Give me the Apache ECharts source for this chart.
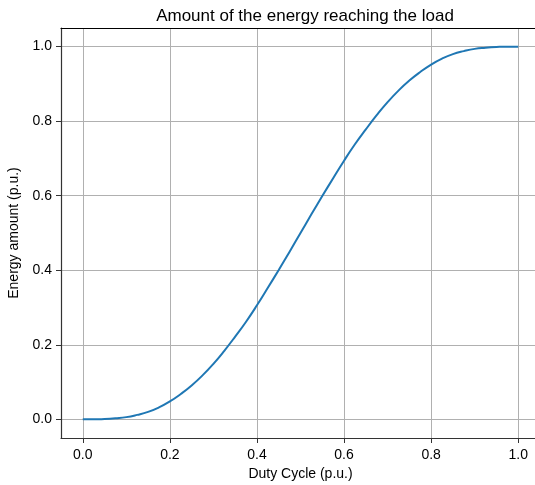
<!DOCTYPE html>
<html>
<head>
<meta charset="utf-8">
<script src="https://cdn.jsdelivr.net/npm/echarts@6/dist/echarts.min.js"></script>
<style>
    html, body { margin: 0; padding: 0; background: #fff; }
    #main { width: 535px; height: 485px; }
</style>
</head>
<body>
<div id="main"></div>
<script>
    // duty cycle (p.u.) and energy reaching the load (p.u.)
    var dutyCycle = [0.000, 0.025, 0.050, 0.075, 0.100, 0.125, 0.150, 0.175, 0.200, 0.225,
                     0.250, 0.275, 0.300, 0.325, 0.350, 0.375, 0.400, 0.425, 0.450, 0.475,
                     0.500, 0.525, 0.550, 0.575, 0.600, 0.625, 0.650, 0.675, 0.700, 0.725,
                     0.750, 0.775, 0.800, 0.825, 0.850, 0.875, 0.900, 0.925, 0.950, 0.975, 1.000];
    var energy = [0.000, 0.000, 0.001, 0.003, 0.006, 0.012, 0.020, 0.032, 0.048, 0.068,
                  0.091, 0.118, 0.149, 0.184, 0.222, 0.262, 0.306, 0.353, 0.401, 0.450,
                  0.500, 0.550, 0.599, 0.647, 0.694, 0.738, 0.778, 0.816, 0.851, 0.882,
                  0.909, 0.932, 0.952, 0.968, 0.980, 0.988, 0.994, 0.997, 0.999, 1.000, 1.000];
    var xTicks = [0.0, 0.2, 0.4, 0.6, 0.8, 1.0];
    var yTicks = [0.0, 0.2, 0.4, 0.6, 0.8, 1.0];

    var points = dutyCycle.map(function (d, i) { return [d, energy[i]]; });

    var font = 'Liberation Sans, Arial, Helvetica, sans-serif';
    var fmt = function (v) { return (+v).toFixed(1); };

    var myChart = echarts.init(document.getElementById('main'), null, { renderer: 'canvas' });
    var option = {
        backgroundColor: '#ffffff',
        animation: false,
        title: {
            text: 'Amount of the energy reaching the load',
            left: 300,
            top: 3,
            textAlign: 'center',
            textStyle: { fontFamily: font, fontSize: 17, fontWeight: 'normal', color: '#000' }
        },
        // plot area runs past the right edge of the picture, like the reference
        grid: { left: 61, top: 28, width: 479, height: 410, outerBoundsMode: 'none' },
        xAxis: [{
            type: 'value',
            min: -0.05,
            max: 1.05,
            name: 'Duty Cycle (p.u.)',
            nameLocation: 'middle',
            nameGap: 28,
            nameTextStyle: { fontFamily: font, fontSize: 14, color: '#000' },
            axisLine: { show: true, onZero: false, lineStyle: { color: '#333', width: 1.2 } },
            axisTick: { show: true, length: 5, customValues: xTicks, lineStyle: { color: '#333' } },
            axisLabel: { customValues: xTicks, formatter: fmt, margin: 10,
                         fontFamily: font, fontSize: 14, color: '#000' },
            splitLine: { show: true, lineStyle: { color: '#b0b0b0', width: 1 } }
        }, {
            type: 'value',
            position: 'top',
            min: -0.05,
            max: 1.05,
            axisLine: { show: true, onZero: false, lineStyle: { color: '#000', width: 1.2 } },
            axisTick: { show: false },
            axisLabel: { show: false },
            splitLine: { show: false }
        }],
        yAxis: {
            type: 'value',
            min: -0.05,
            max: 1.05,
            name: 'Energy amount (p.u.)',
            nameLocation: 'middle',
            nameGap: 33,
            nameTextStyle: { fontFamily: font, fontSize: 14, color: '#000' },
            axisLine: { show: true, onZero: false, lineStyle: { color: '#333', width: 1.2 } },
            axisTick: { show: true, length: 5, customValues: yTicks, lineStyle: { color: '#333' } },
            axisLabel: { customValues: yTicks, formatter: fmt, margin: 9,
                         fontFamily: font, fontSize: 14, color: '#000' },
            splitLine: { show: true, lineStyle: { color: '#b0b0b0', width: 1 } }
        },
        series: [{
            type: 'line',
            xAxisIndex: 0,
            data: points,
            smooth: true,
            showSymbol: false,
            lineStyle: { color: '#1f77b4', width: 2 }
        }]
    };
    myChart.setOption(option);
</script>
</body>
</html>
